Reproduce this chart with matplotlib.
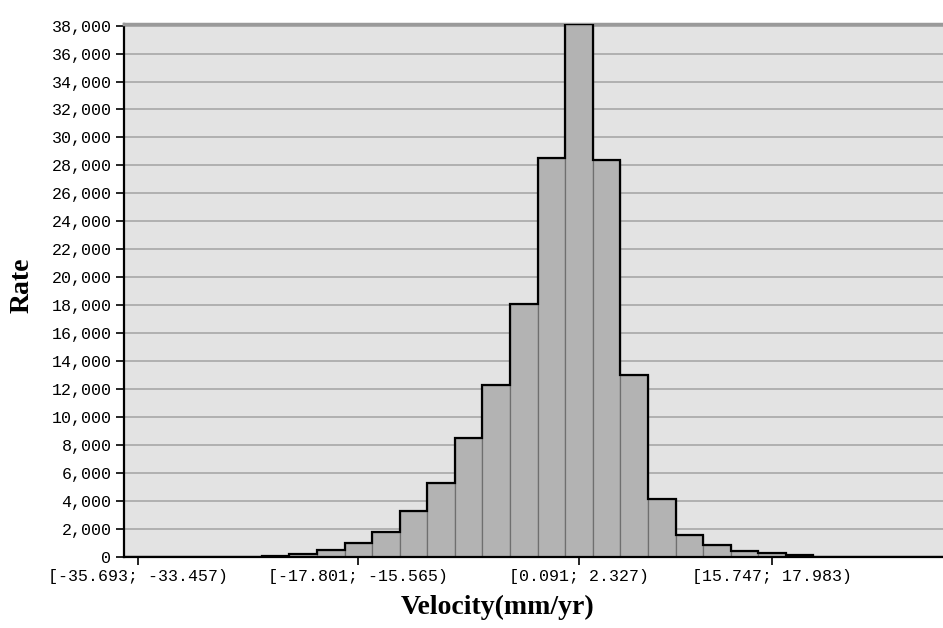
import matplotlib.pyplot as plt
import numpy as np

# histogram of velocities, bin width ~2.2365 mm/yr starting at -35.693
BIN_START = -35.693
BIN_WIDTH = 2.2365
counts = [
    0, 0, 0, 0, 0,
    70, 200, 450, 950, 1800, 3250, 5300, 8480, 12260, 18090,
    28560, 38150, 28370, 12990, 4140, 1555, 840, 380, 240, 90,
    0, 0, 0, 0, 0,
]
tick_bins = [0, 8, 16, 23]
tick_labels = ["[-35.693; -33.457)", "[-17.801; -15.565)", "[0.091; 2.327)", "[15.747; 17.983)"]
y_ticks = list(range(0, 38001, 2000))


def main():
    fig = plt.figure(figsize=(9.43, 6.28), dpi=100)
    ax = fig.add_axes([124 / 943, 1 - 556.7 / 628, 1 - 124 / 943, (556.7 - 23.5) / 628])

    edges = BIN_START + BIN_WIDTH * np.arange(len(counts) + 1)
    ax.bar(edges[:-1], counts, width=BIN_WIDTH, align="edge",
           color="#b3b3b3", edgecolor="#6f6f6f", linewidth=0.9, zorder=2)
    ax.stairs(counts, edges, color="black", linewidth=1.6, zorder=3)

    ax.set_facecolor("#e3e3e3")
    ax.set_xlim(BIN_START, BIN_START + 29.7 * BIN_WIDTH)
    ax.set_ylim(0, 38150)
    ax.set_yticks(y_ticks)
    ax.set_yticklabels([f"{v:,}" for v in y_ticks], family="Liberation Mono", fontsize=12)
    ax.yaxis.grid(True, color="#acacac", linewidth=1.3)
    ax.set_axisbelow(True)

    centers = [edges[i] + BIN_WIDTH / 2 for i in tick_bins]
    ax.set_xticks(centers)
    ax.set_xticklabels(tick_labels, family="Liberation Mono", fontsize=12)
    ax.tick_params(axis="both", length=6, width=1.2, color="black", pad=3)

    for side in ["left", "bottom"]:
        ax.spines[side].set_color("black")
        ax.spines[side].set_linewidth(1.6)
    ax.spines["right"].set_visible(False)
    ax.spines["top"].set_color("#9a9a9a")
    ax.spines["top"].set_linewidth(2.5)

    ax.set_ylabel("Rate", family="Liberation Serif", fontweight="bold", fontsize=20)
    ax.yaxis.set_label_coords((22 - 124) / 819, (556.7 - 285) / 533.2)
    ax.set_xlabel("Velocity(mm/yr)", family="Liberation Serif", fontweight="bold", fontsize=20)
    ax.xaxis.set_label_coords((498 - 124) / 819, -(607 - 556.7) / 533.2)
    ax.xaxis.label.set_va("center")
    ax.yaxis.label.set_va("center")

    fig.savefig("out.png", dpi=100)
    plt.close(fig)


if __name__ == "__main__":
    main()
